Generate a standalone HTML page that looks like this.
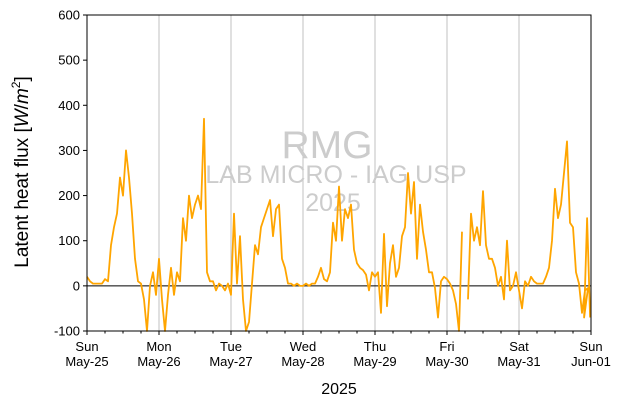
<!DOCTYPE html>
<html><head><meta charset="utf-8"><style>body{margin:0;background:#fff}svg{display:block;font-family:"Liberation Sans","DejaVu Sans",sans-serif}</style></head>
<body>
<svg id="c" width="623" height="407"></svg>
<script>
const dayLabels=[["Sun","May-25"],["Mon","May-26"],["Tue","May-27"],["Wed","May-28"],["Thu","May-29"],["Fri","May-30"],["Sat","May-31"],["Sun","Jun-01"]];
const yTicks=[-100,0,100,200,300,400,500,600];
const sun=[20,10,5,5,5,5,15,10,90,130,160,240,200,300,240,160,60,10,5,-30,-100,0,30,-20];
const mon=[60,-30,-100,-20,40,-20,30,10,150,100,200,150,180,200,170,370,30,10,10,-10,5,0,-10,5];
const tue=[-20,160,5,110,-30,-100,-80,5,90,70,130,150,170,190,110,170,180,60,40,5,5,0,5,0];
const wed=[0,5,0,5,5,20,40,15,10,30,140,100,220,100,170,150,180,80,50,40,35,25,-10,30];
const thu=[20,30,-60,115,-45,50,90,20,40,110,130,250,160,230,60,180,120,80,30,30,-5,-70,10,20];
const fri=[15,5,-10,-40,-100,120,null,-30,160,100,130,90,210,90,60,60,40,0,20,-30,100,-10,0,30];
const sat=[-10,-50,10,0,20,10,5,5,5,20,40,100,215,150,180,250,320,140,130,30,5,-60,-10,-5];
const tail=[-70,150,-70];
const values=[].concat(sun,mon,tue,wed,thu,fri,sat);
const X0=87,X1=591,Y0=331,Y1=15;
const xs=h=>X0+(X1-X0)*h/168;
const ys=v=>Y0-(Y0-Y1)*(v+100)/700;
const NS="http://www.w3.org/2000/svg";
const svg=document.getElementById('c');
function mk(t,a,p){const e=document.createElementNS(NS,t);for(const k in a)e.setAttribute(k,a[k]);(p||svg).appendChild(e);return e;}
for(let d=1;d<7;d++){const g=mk('line',{x1:xs(d*24),x2:xs(d*24),y1:Y1,y2:Y0,stroke:'#c0c0c0','stroke-width':1});

}
const wm=[["RMG",158,39,327],["LAB MICRO - IAG USP",183,25,336],["2025",211,25,333]];
wm.forEach(w=>{const t=mk('text',{x:w[3],y:w[1],'text-anchor':'middle','font-size':w[2],fill:'#cccccc'});t.textContent=w[0];

});
const z=mk('line',{x1:X0,x2:X1,y1:ys(0),y2:ys(0),stroke:'#000','stroke-width':1});


let d="",pen=false;
values.forEach((v,i)=>{if(v===null){pen=false;return;}d+=(pen?"L":"M")+xs(i).toFixed(1)+","+ys(v).toFixed(1);pen=true;});
tail.forEach((v,i)=>{d+="L"+xs(168-3+i+1-0.3).toFixed(1)+","+ys(v).toFixed(1);});
const p=mk('path',{d:d,fill:'none',stroke:'#ffa500','stroke-width':1.8,'stroke-linejoin':'round'});


const f=mk('rect',{x:X0,y:Y1,width:X1-X0,height:Y0-Y1,fill:'none',stroke:'#000','stroke-width':1});


yTicks.forEach(v=>{mk('line',{x1:X0-4,x2:X0,y1:ys(v),y2:ys(v),stroke:'#000'});
const t=mk('text',{x:X0-7,y:ys(v)+4.5,'text-anchor':'end','font-size':13});t.textContent=v;

});
for(let h=0;h<=168;h+=6){mk('line',{x1:xs(h),x2:xs(h),y1:Y0,y2:Y0+(h%24?2.5:4),stroke:'#000'});}
dayLabels.forEach((l,i)=>{const t=mk('text',{x:xs(i*24),y:351,'text-anchor':'middle','font-size':13});t.textContent=l[0];


const t2=mk('text',{x:xs(i*24),y:366,'text-anchor':'middle','font-size':13});t2.textContent=l[1];

});
const xl=mk('text',{x:339,y:394,'text-anchor':'middle','font-size':16});xl.textContent="2025";


const yl=mk('text',{x:0,y:0,'text-anchor':'middle','font-size':19,transform:'translate(28,172) rotate(-90)'});
yl.innerHTML='Latent heat flux [<tspan font-style="italic">W</tspan>/<tspan font-style="italic">m</tspan><tspan font-size="12" dy="-8">2</tspan><tspan dy="8">]</tspan>';


</script>
</body></html>
